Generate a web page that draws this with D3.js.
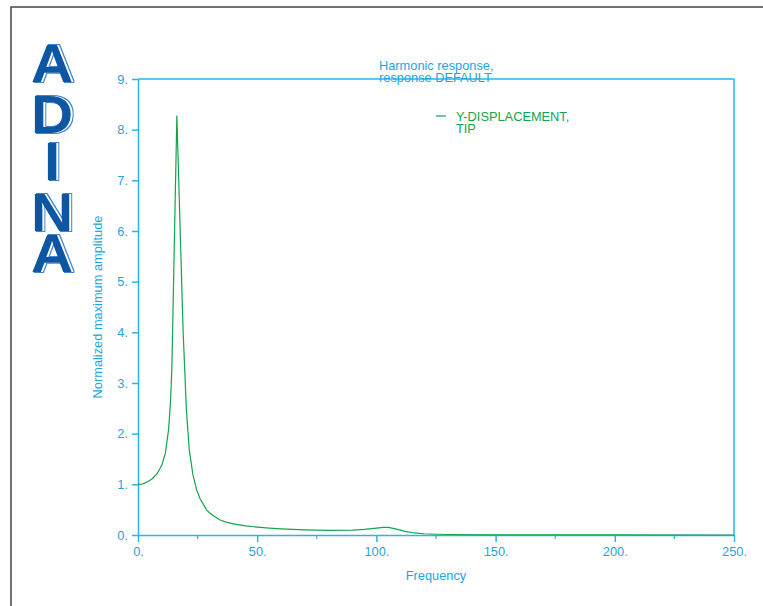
<!DOCTYPE html>
<html><head><meta charset="utf-8">
<script src="https://cdn.jsdelivr.net/npm/d3@7"></script>
<style>body{margin:0;background:#fff;}svg{display:block;font-family:"Liberation Sans",Arial,sans-serif;}</style>
</head><body>
<svg id="c" width="763" height="606"></svg>
<script>
const freq = [0,2,4,6,8,10,11.5,12.8,13.6,14.2,16.3,18.9,19.6,20.3,21.5,23,24.6,26,28.8,31,34.2,37,40,45,50,55,60,70,80,90,95,100,103,105,108,112,116,120,125,130,150,200,250];
const amp  = [1.0,1.01,1.05,1.11,1.21,1.38,1.62,2.07,2.6,3.28,8.28,4.05,3.26,2.47,1.68,1.2,0.89,0.72,0.49,0.4,0.30,0.255,0.22,0.18,0.155,0.135,0.12,0.1,0.09,0.095,0.11,0.135,0.15,0.15,0.12,0.07,0.04,0.025,0.015,0.01,0.004,0.002,0.0];
const xTicks = [0,50,100,150,200,250];
const xMinor = [25,75,125,175,225];
const yTicks = [0,1,2,3,4,5,6,7,8,9];
const titleLines = ["Harmonic response,","response DEFAULT"];
const legendLines = ["Y-DISPLACEMENT,","TIP"];
const logoLetters = ["A","D","I","N","A"];

const svg = d3.select("#c");
const blue = "#29b5e8", txt = "#1ea6e2", green = "#12a54e";
const FS = 12.8;
const L=138, R=734, T=79, B=535;
const x = d3.scaleLinear().domain([0,250]).range([L,R]);
const y = d3.scaleLinear().domain([0,9]).range([B,T]);

// filter for logo outline (offset light outline)
const defs = svg.append("defs");
const f = defs.append("filter").attr("id","outl").attr("x","-20%").attr("y","-20%").attr("width","140%").attr("height","140%");
f.append("feMorphology").attr("in","SourceAlpha").attr("operator","dilate").attr("radius",1.2).attr("result","dil");
f.append("feComposite").attr("in","dil").attr("in2","SourceAlpha").attr("operator","out").attr("result","ring");
f.append("feOffset").attr("in","ring").attr("dx",2).attr("dy",0).attr("result","ringOff");
f.append("feFlood").attr("flood-color","#3f86cc").attr("result","col");
f.append("feComposite").attr("in","col").attr("in2","ringOff").attr("operator","in").attr("result","ringCol");
const fm = f.append("feMerge");
fm.append("feMergeNode").attr("in","ringCol");
fm.append("feMergeNode").attr("in","SourceGraphic");

// outer frame
svg.append("path").attr("d","M11,606 V7 H763").attr("fill","none").attr("stroke","#444").attr("stroke-width",1.5);

// logo
const lg = svg.append("g");
logoLetters.forEach((c,i)=>{
  const cy = [82,133,180,231,272][i];
  lg.append("text").attr("transform",`translate(52,${cy}) scale(1.08,1)`).attr("text-anchor","middle")
    .attr("font-size",54).attr("font-weight","bold").attr("fill","#0a56a3")
    .attr("filter","url(#outl)").text(c);
});

// plot frame
svg.append("path").attr("d",`M${L},${T} H${R} V${B}`).attr("fill","none").attr("stroke",blue).attr("stroke-width",1.5);

// axes
const xa = svg.append("g").attr("transform",`translate(0,${B})`)
  .call(d3.axisBottom(x).tickValues(xTicks).tickSize(7).tickSizeOuter(0).tickFormat(d=>d+"."));
xa.select(".domain").attr("stroke",blue).attr("stroke-width",1.5);
xa.selectAll(".tick line").attr("stroke",blue).attr("stroke-width",1.5);
xa.selectAll("text").attr("fill",txt).attr("font-size",FS).attr("font-family","Liberation Sans, Arial, sans-serif").attr("dy","0.85em");
svg.append("g").selectAll("line").data(xMinor).join("line")
  .attr("x1",d=>x(d)).attr("x2",d=>x(d)).attr("y1",B).attr("y2",B+4).attr("stroke",blue).attr("stroke-width",1.2);

const ya = svg.append("g").attr("transform",`translate(${L},0)`)
  .call(d3.axisLeft(y).tickValues(yTicks).tickSize(6).tickSizeOuter(0).tickFormat(d=>d+"."));
ya.select(".domain").attr("stroke",blue).attr("stroke-width",1.5);
ya.selectAll(".tick line").attr("stroke",blue).attr("stroke-width",1.5);
ya.selectAll("text").attr("fill",txt).attr("font-size",FS).attr("font-family","Liberation Sans, Arial, sans-serif").attr("x",-10);

// labels
svg.append("text").attr("x",436).attr("y",580).attr("text-anchor","middle").attr("fill",txt).attr("font-size",FS).text("Frequency");
svg.append("text").attr("transform","translate(102,307) rotate(-90)").attr("text-anchor","middle").attr("fill",txt).attr("font-size",FS).text("Normalized maximum amplitude");
titleLines.forEach((t,i)=>svg.append("text").attr("x",379).attr("y",70+i*11.5).attr("fill",txt).attr("font-size",FS).text(t));

// legend
svg.append("line").attr("x1",436).attr("x2",446).attr("y1",116).attr("y2",116).attr("stroke",green).attr("stroke-width",1.2);
legendLines.forEach((t,i)=>svg.append("text").attr("x",456).attr("y",121+i*11.5).attr("fill",green).attr("font-size",FS).text(t));

// curve
const pts = freq.map((f,i)=>[f,amp[i]]);
svg.append("path").datum(pts).attr("fill","none").attr("stroke",green).attr("stroke-width",1.2)
  .attr("d",d3.line().x(d=>x(d[0])).y(d=>y(d[1])));
</script>
</body></html>
